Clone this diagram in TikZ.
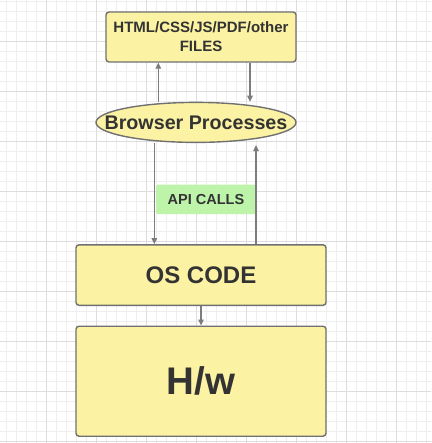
\documentclass[tikz,border=0pt]{standalone}
\usepackage{fontspec}
\setmainfont{Liberation Sans}
\usetikzlibrary{positioning,arrows.meta,shapes.geometric}
\definecolor{boxfill}{HTML}{FCF2A4}
\definecolor{boxline}{HTML}{707070}
\definecolor{apifill}{HTML}{BEF4AA}
\definecolor{flowline}{HTML}{7C7C7C}
\definecolor{labeltext}{HTML}{333333}
\definecolor{gridminor}{HTML}{EEEEEE}
\definecolor{gridmajor}{HTML}{DDDDDD}
\tikzset{
x=1pt, y=1pt,
block/.style={draw=boxline, line width=1.4pt, fill=boxfill, rounded corners=3pt,
  inner sep=0pt, text=labeltext, font=\bfseries},
proc/.style={ellipse, draw=boxline, line width=1.4pt, fill=boxfill,
  inner xsep=-21pt, inner ysep=0pt, text=labeltext, font=\bfseries},
api/.style={fill=apifill, rounded corners=2pt, inner sep=0pt, text=labeltext,
  font=\bfseries\fontsize{14.5}{17}\selectfont},
flow/.style={draw=flowline, line width=1.1pt, -{Triangle[width=5.5pt,length=6pt]}},
}

\begin{document}
\begin{tikzpicture}
    \useasboundingbox (0,0) rectangle (431,-443);

    %grid
    \foreach \i in {0,...,42}
      \draw[gridminor, line width=0.8pt] (6.7+10*\i,0) -- (6.7+10*\i,-443);
    \foreach \j in {0,...,44}
      \draw[gridminor, line width=0.8pt] (0,-1.7-10*\j) -- (431,-1.7-10*\j);
    \foreach \i in {0,...,7}
      \draw[gridmajor, line width=0.8pt] (46.7+50*\i,0) -- (46.7+50*\i,-443);
    \foreach \j in {0,...,8}
      \draw[gridmajor, line width=0.8pt] (0,-41.7-50*\j) -- (431,-41.7-50*\j);

    %boxes
    \node[block, minimum width=190pt, minimum height=50pt, align=center,
      font=\bfseries\fontsize{15}{19}\selectfont] (files) at (201,-37)
      {HTML/CSS/JS/PDF/other\\FILES};
    \node[proc, minimum width=200pt, minimum height=40pt,
      font=\bfseries\fontsize{19.7}{22}\selectfont,
      below=39pt of files, xshift=-5pt] (browser) {Browser Processes};
    \node[api, minimum width=100pt, minimum height=29.5pt,
      below=41.3pt of browser, xshift=10pt] (calls) {API CALLS};
    \node[block, minimum width=250pt, minimum height=60.5pt,
      font=\bfseries\fontsize{24}{28}\selectfont,
      below=101pt of browser, xshift=5pt] (os) {OS CODE};
    \node[block, minimum width=250pt, minimum height=110pt,
      font=\bfseries\fontsize{38.5}{44}\selectfont,
      below=19.5pt of os] (hw) {H/w};

    %connectors
    \draw[flow] ([xshift=-37.7pt]browser.north) -- ([xshift=-42.7pt]files.south);
    \draw[flow] ([xshift=49pt]files.south) -- ([xshift=54pt]browser.north);
    \draw[flow] ([xshift=-41.7pt]browser.south) -- ([xshift=-46.7pt]os.north);
    \draw[flow] ([xshift=55pt]os.north) -- ([xshift=60pt,yshift=-2pt]browser.south);
    \draw[flow] (os.south) -- (hw.north);
\end{tikzpicture}
\end{document}
